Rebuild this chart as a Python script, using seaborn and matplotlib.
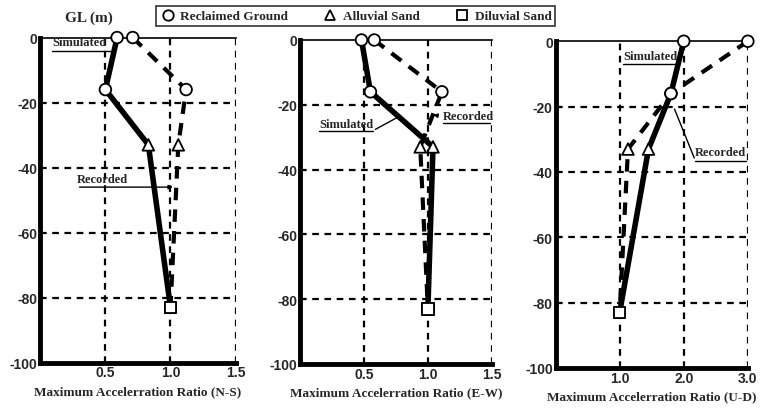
import matplotlib
matplotlib.use("Agg")
import matplotlib.pyplot as plt
from matplotlib.lines import Line2D
import pandas as pd
import seaborn as sns

sns.set_style("white")

# depth of the observation points (GL, m) and layer names
depth = [0, -16, -33, -83]
layer = ["Reclaimed Ground", "Reclaimed Ground", "Alluvial Sand", "Diluvial Sand"]

# maximum acceleration ratio
sim_ns = [0.59, 0.50, 0.83, 1.00]
rec_ns = [0.71, 1.12, 1.06, 1.00]
sim_ew = [0.48, 0.55, 1.04, 1.00]
rec_ew = [0.58, 1.11, 0.94, 1.00]
sim_ud = [2.00, 1.80, 1.45, 1.00]
rec_ud = [3.00, 1.80, 1.13, 1.00]

comps = ["N-S", "E-W", "U-D"]
xlims = [(0, 1.5), (0, 1.5), (0, 3.0)]
xticks = [[0.5, 1.0, 1.5], [0.5, 1.0, 1.5], [1.0, 2.0, 3.0]]
yticks = [0, -20, -40, -60, -80, -100]

frames = []
for comp, sim, rec in zip(comps, [sim_ns, sim_ew, sim_ud], [rec_ns, rec_ew, rec_ud]):
    frames.append(pd.DataFrame({"comp": comp, "kind": "Simulated", "ratio": sim,
                                "depth": depth, "layer": layer}))
    frames.append(pd.DataFrame({"comp": comp, "kind": "Recorded", "ratio": rec,
                                "depth": depth, "layer": layer}))
df = pd.concat(frames, ignore_index=True)

markers = {"Reclaimed Ground": "o", "Alluvial Sand": "^", "Diluvial Sand": "s"}

serif = ["Liberation Serif", "DejaVu Serif"]
sans = ["Liberation Sans", "DejaVu Sans"]

fig = plt.figure(figsize=(7.6, 4.1), dpi=100)
boxes = [[0.053, 0.113, 0.257, 0.793],
         [0.395, 0.110, 0.252, 0.790],
         [0.731, 0.100, 0.253, 0.797]]

axes = []
for i, comp in enumerate(comps):
    ax = fig.add_axes(boxes[i])
    axes.append(ax)
    d = df[df.comp == comp]
    sim = d[d.kind == "Simulated"]
    rec = d[d.kind == "Recorded"]
    sns.lineplot(data=rec, x="ratio", y="depth", sort=False, color="black",
                 lw=3, ax=ax, zorder=3).lines[-1].set_dashes([3, 2.2])
    sns.lineplot(data=sim, x="ratio", y="depth", sort=False, color="black",
                 lw=4, ax=ax, zorder=4)
    sns.scatterplot(data=d, x="ratio", y="depth", style="layer", markers=markers,
                    s=70, facecolor="white", edgecolor="black", linewidth=1.3,
                    ax=ax, zorder=5, legend=False, clip_on=False)

    ax.set_xlim(*xlims[i])
    ax.set_ylim(-100, 0)
    ax.set_xticks(xticks[i])
    ax.set_xticklabels([f"{v:.1f}" for v in xticks[i]])
    ax.set_yticks(yticks)
    ax.set_yticklabels([str(v) for v in yticks])
    ax.tick_params(length=0, pad=2)
    for lab in ax.get_xticklabels() + ax.get_yticklabels():
        lab.set_fontfamily(sans)
        lab.set_fontweight("bold")
        lab.set_fontsize(10)
    ax.set_xlabel(f"Maximum Accelerration Ratio ({comp})", fontfamily=serif,
                  fontweight="bold", fontsize=9.5, labelpad=4)
    ax.set_ylabel("")

    for v in xticks[i]:
        ax.axvline(v, color="black", lw=1.6, ls=(0, (3, 2.5)), zorder=1)
    for v in yticks[1:-1]:
        ax.axhline(v, color="black", lw=1.6, ls=(0, (3, 2.5)), zorder=1)

    ax.spines["left"].set_linewidth(3.5)
    ax.spines["bottom"].set_linewidth(3.5)
    ax.spines["top"].set_linewidth(1.2)
    ax.spines["right"].set_visible(False)
    for s in ax.spines.values():
        s.set_color("black")

lab_kw = dict(fontfamily=serif, fontweight="bold", fontsize=9)
arr = dict(arrowstyle="-", color="black", lw=1)

# annotations, N-S
ax = axes[0]
ax.text(0.09, -1.5, "Simulated", ha="left", va="center", **lab_kw)
ax.plot([0.09, 0.54], [-4, -4], color="black", lw=1)
ax.text(0.28, -43.5, "Recorded", ha="left", va="center", **lab_kw)
ax.annotate("", xy=(1.04, -46), xytext=(0.28, -46),
            arrowprops=dict(arrowstyle="-|>", color="black", lw=1, mutation_scale=6))

# annotations, E-W
ax = axes[1]
ax.text(0.15, -26, "Simulated", ha="left", va="center", **lab_kw)
ax.plot([0.15, 0.57], [-28, -28], color="black", lw=1)
ax.annotate("", xy=(0.78, -23.5), xytext=(0.57, -28), arrowprops=arr)
ax.text(1.12, -23.5, "Recorded", ha="left", va="center", **lab_kw)
ax.plot([1.12, 1.49], [-25.5, -25.5], color="black", lw=1)
ax.annotate("", xy=(1.02, -23), xytext=(1.10, -23.5),
            arrowprops=dict(arrowstyle="-|>", color="black", lw=1, mutation_scale=6))

# annotations, U-D
ax = axes[2]
ax.text(1.06, -4.5, "Simulated", ha="left", va="center", **lab_kw)
ax.plot([1.06, 1.9], [-7, -7], color="black", lw=1)
ax.text(2.18, -34, "Recorded", ha="left", va="center", **lab_kw)
ax.plot([2.18, 2.97], [-36.5, -36.5], color="black", lw=1)
ax.annotate("", xy=(1.84, -20), xytext=(2.18, -36.5), arrowprops=arr)

fig.text(0.085, 0.955, "GL (m)", fontfamily=serif, fontweight="bold", fontsize=11,
         ha="left", va="center")

handles = [Line2D([], [], ls="", marker=m, markersize=7.5, markerfacecolor="white",
                  markeredgecolor="black", markeredgewidth=1.3, label=k)
           for k, m in markers.items()]
leg = fig.legend(handles=handles, loc="center", bbox_to_anchor=(0.468, 0.958), ncol=3,
                 frameon=True, fancybox=False, handletextpad=0.35, columnspacing=2.6,
                 handlelength=1.2, borderpad=0.3,
                 prop=dict(family=serif, weight="bold", size=9.5))
leg.get_frame().set_edgecolor("black")
leg.get_frame().set_linewidth(1.2)

fig.savefig("out.png", dpi=100)
